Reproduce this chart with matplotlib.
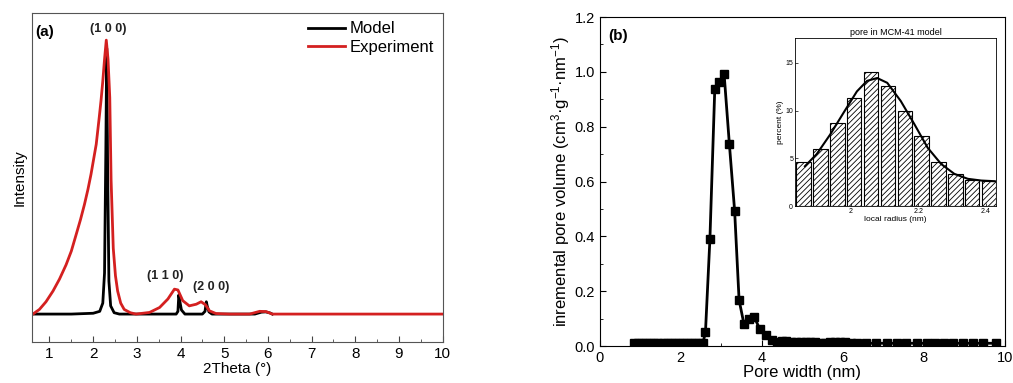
import matplotlib.pyplot as plt
import numpy as np

plt.rcParams['font.family'] = ['Liberation Sans', 'DejaVu Sans']
plt.rcParams['mathtext.default'] = 'regular'

# ---- panel (a): XRD patterns (peak = 1) ----
model_x = [0.6, 1.0, 1.5, 2.0, 2.15, 2.22, 2.26, 2.29, 2.31, 2.33, 2.36, 2.40, 2.48, 2.6,
           3.0, 3.5, 3.9, 3.94, 3.96, 3.98, 4.02, 4.1, 4.5, 4.56, 4.59, 4.61, 4.65, 4.72,
           5.0, 5.7, 5.85, 5.95, 6.05, 6.1]
model_y = [0, 0, 0, 0.003, 0.01, 0.04, 0.15, 0.6, 0.97, 0.55, 0.12, 0.03, 0.005, 0,
           0, 0, 0, 0.01, 0.07, 0.05, 0.015, 0, 0, 0.01, 0.045, 0.03, 0.008, 0,
           0, 0, 0.007, 0.008, 0.004, 0]

exp_x = [0.62, 0.77, 0.92, 1.08, 1.23, 1.38, 1.50, 1.61, 1.71, 1.80, 1.88, 1.95, 2.01,
         2.07, 2.14, 2.18, 2.22, 2.26, 2.30, 2.34, 2.38, 2.41, 2.46, 2.51, 2.56, 2.63,
         2.71, 2.85, 2.98, 3.29, 3.52, 3.71, 3.86, 3.94, 4.05, 4.20, 4.36, 4.47, 4.57,
         4.66, 4.81, 5.12, 5.58, 5.81, 5.96, 6.10, 7.0, 8.0, 9.0, 10.0]
exp_y = [0.0, 0.017, 0.045, 0.084, 0.128, 0.18, 0.23, 0.29, 0.345, 0.40, 0.455, 0.51,
         0.565, 0.62, 0.72, 0.78, 0.85, 0.93, 1.0, 0.93, 0.79, 0.49, 0.24, 0.14, 0.084,
         0.04, 0.017, 0.005, 0.0, 0.006, 0.024, 0.055, 0.091, 0.088, 0.049, 0.030, 0.036,
         0.045, 0.034, 0.012, 0.002, 0.0, 0.0, 0.01, 0.009, 0.0, 0.0, 0.0, 0.0, 0.0]

peak_labels = ['(1 0 0)', '(1 1 0)', '(2 0 0)']
peak_pos = [(2.35, 1.04), (3.65, 0.14), (4.7, 0.10)]

# ---- panel (b): pore size distribution ----
pore_w = [0.85, 0.95, 1.05, 1.15, 1.25, 1.35, 1.45, 1.55, 1.65, 1.75, 1.85, 1.95, 2.05,
          2.15, 2.25, 2.35, 2.45, 2.55, 2.61, 2.72, 2.84, 2.95, 3.07, 3.20, 3.33, 3.44,
          3.56, 3.69, 3.81, 3.95, 4.10, 4.25, 4.38, 4.50, 4.60, 4.72, 4.85, 4.97, 5.08,
          5.20, 5.32, 5.45, 5.57, 5.68, 5.80, 5.92, 6.05, 6.20, 6.35, 6.58, 6.83, 7.08,
          7.33, 7.57, 7.82, 8.07, 8.27, 8.49, 8.72, 8.97, 9.21, 9.46, 9.79]
pore_v = [0.012] * 18 + [0.05, 0.39, 0.937, 0.962, 0.993, 0.737, 0.493, 0.168,
          0.08, 0.098, 0.107, 0.062, 0.04, 0.022, 0.015, 0.018, 0.02, 0.015, 0.013,
          0.014, 0.016, 0.014, 0.013, 0.012, 0.012, 0.013, 0.014, 0.014, 0.013, 0.012] \
         + [0.01] * 15

# ---- inset: local radius histogram + fit ----
radius = [1.86, 1.91, 1.96, 2.01, 2.06, 2.11, 2.16, 2.21, 2.26, 2.31, 2.36, 2.41]
percent = [4.58, 5.98, 8.65, 11.3, 14.0, 12.6, 10.0, 7.3, 4.6, 3.33, 2.75, 2.65]
fit_x = [1.864, 1.899, 1.939, 1.979, 2.018, 2.048, 2.078, 2.108, 2.148, 2.188, 2.228,
         2.268, 2.307, 2.347, 2.387, 2.427]
fit_y = [4.17, 5.45, 7.5, 9.8, 12.0, 13.1, 13.4, 12.9, 11.0, 8.6, 6.1, 4.4, 3.37,
         2.85, 2.67, 2.6]

fig = plt.figure(figsize=(10.13, 3.83), dpi=100)

# panel (a)
ax1 = fig.add_axes([0.0316, 0.107, 0.4054, 0.859])
ax1.plot(model_x, model_y, color='black', lw=2, label='Model')
ax1.plot(exp_x, exp_y, color='#d42020', lw=2, label='Experiment')
ax1.set_xlim(0.6, 10)
ax1.set_ylim(-0.102, 1.099)
ax1.set_xticks(range(1, 11))
ax1.set_xticks(np.arange(1.5, 10, 1), minor=True)
ax1.set_yticks([])
ax1.tick_params(axis='x', direction='in', labelsize=11, length=4, color='#444')
ax1.tick_params(axis='x', which='minor', direction='in', length=2, color='#444')
for s in ax1.spines.values():
    s.set_color('#555')
ax1.set_xlabel('2Theta (°)', fontsize=11, labelpad=1)
ax1.set_ylabel('Intensity', fontsize=11, labelpad=4)
ax1.text(0.68, 1.03, '(a)', fontsize=11, fontweight='bold', va='center')
for lab, (px, py) in zip(peak_labels, peak_pos):
    ax1.text(px, py, lab, fontsize=9, fontweight='bold', ha='center', va='center',
             color='#222')
ax1.legend(loc='upper right', frameon=False, fontsize=12, handlelength=2.2,
           handletextpad=0.3, borderaxespad=0.1, labelspacing=0.2)

# panel (b)
ax2 = fig.add_axes([0.592, 0.0966, 0.400, 0.859])
ax2.plot(pore_w, pore_v, color='black', lw=2, marker='s', markersize=5.5)
ax2.set_xlim(0, 10)
ax2.set_ylim(0, 1.2)
ax2.set_xticks(range(0, 11, 2))
ax2.set_xticks(range(1, 10, 2), minor=True)
ax2.set_yticks(np.arange(0, 1.21, 0.2))
ax2.set_yticks(np.arange(0.1, 1.2, 0.2), minor=True)
ax2.set_yticklabels(['0.0', '0.2', '0.4', '0.6', '0.8', '1.0', '1.2'])
ax2.tick_params(direction='in', labelsize=10.5, length=4)
ax2.tick_params(which='minor', direction='in', length=2)
ax2.set_xlabel('Pore width (nm)', fontsize=12, labelpad=0)
ax2.set_ylabel('inremental pore volume (cm$^3$·g$^{-1}$·nm$^{-1}$)', fontsize=12,
               labelpad=2)
ax2.text(0.2, 1.13, '(b)', fontsize=11, fontweight='bold', va='center')

# inset
ax3 = fig.add_axes([0.785, 0.462, 0.198, 0.439])
plt.rcParams['hatch.linewidth'] = 0.6
ax3.bar(radius, percent, width=0.043, color='white', edgecolor='black', hatch='//////',
        linewidth=0.8)
ax3.plot(fit_x, fit_y, color='black', lw=1.5)
ax3.set_xlim(1.835, 2.43)
ax3.set_ylim(0, 17.6)
ax3.set_xticks([2.0, 2.2, 2.4])
ax3.set_xticklabels(['2', '2.2', '2.4'])
ax3.set_yticks([0, 5, 10, 15])
ax3.tick_params(direction='in', labelsize=5, length=2, width=0.5, pad=1.5)
for s in ax3.spines.values():
    s.set_linewidth(0.6)
ax3.set_title('pore in MCM-41 model', fontsize=6.5, pad=2)
ax3.set_xlabel('local radius (nm)', fontsize=6, labelpad=0.5)
ax3.set_ylabel('percent (%)', fontsize=6, labelpad=1)

fig.savefig('out.png', dpi=100)
